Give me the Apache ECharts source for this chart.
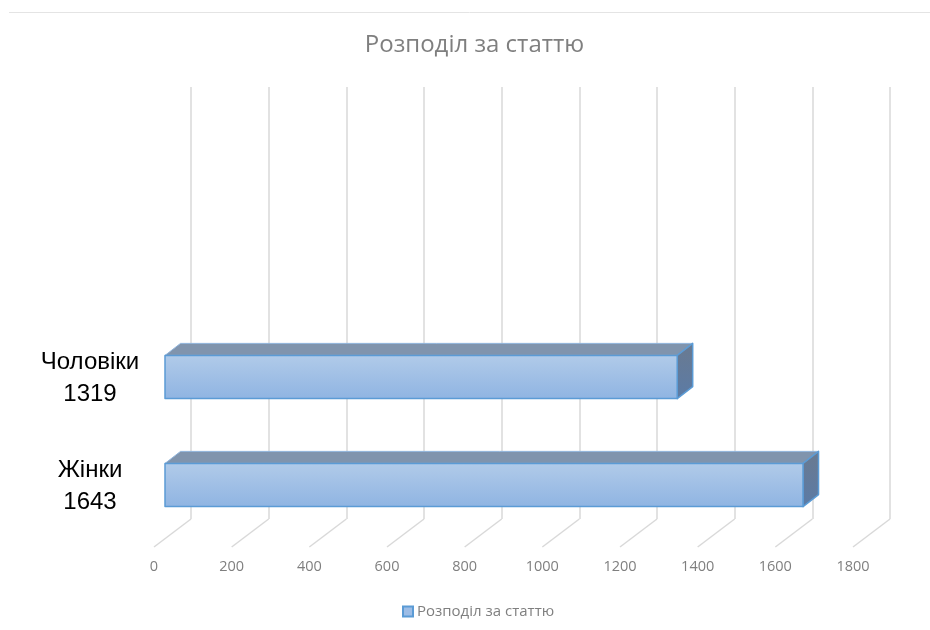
<!DOCTYPE html>
<html>
<head>
<meta charset="utf-8">
<style>
  html, body { margin: 0; padding: 0; background: #fff; }
  #chart { width: 930px; height: 630px; }
</style>
<script src="https://cdn.jsdelivr.net/npm/echarts@6/dist/echarts.min.js"></script>
</head>
<body>
<div id="chart"></div>
<script>
// дані
const seriesName = 'Розподіл за статтю';
const categories = ['Жінки', 'Чоловіки', '', ''];
const values = [1643, 1319];
const ticks = [0, 200, 400, 600, 800, 1000, 1200, 1400, 1600, 1800];

// зсув глибини псевдо-3D
const barDepth = [15.5, -12];
const floorDepth = [37, -28];

const chart = echarts.init(document.getElementById('chart'));

function renderBar(params, api) {
  const v = api.value(0);
  const i = api.value(1);
  const h = api.size([0, 1])[1] * 0.4;
  const a = api.coord([0, i]);
  const b = api.coord([v, i]);
  const x0 = a[0], x1 = b[0], yt = a[1] - h / 2, yb = a[1] + h / 2;
  const dx = barDepth[0], dy = barDepth[1];
  const border = { stroke: '#5b9bd5', lineWidth: 1.5, lineJoin: 'round' };
  return {
    type: 'group',
    children: [
      {
        type: 'polygon',
        shape: { points: [[x0, yt], [x0 + dx, yt + dy], [x1 + dx, yt + dy], [x1, yt]] },
        style: Object.assign({ fill: '#8094ad' }, border, { stroke: '#8fb4dc', lineWidth: 1 })
      },
      {
        type: 'polygon',
        shape: { points: [[x1, yt], [x1 + dx, yt + dy], [x1 + dx, yb + dy], [x1, yb]] },
        style: Object.assign({
          fill: new echarts.graphic.LinearGradient(0, 0, 0, 1, [
            { offset: 0, color: '#6a7a90' },
            { offset: 1, color: '#5b7ba6' }
          ])
        }, border)
      },
      {
        type: 'rect',
        shape: { x: x0, y: yt, width: x1 - x0, height: h },
        style: Object.assign({
          fill: new echarts.graphic.LinearGradient(0, 0, 0, 1, [
            { offset: 0, color: '#b1cbe9' },
            { offset: 1, color: '#8fb4e2' }
          ])
        }, border)
      }
    ]
  };
}

function renderFloor(params, api) {
  const p = api.coord([api.value(0), 0]);
  return {
    type: 'line',
    shape: { x1: p[0], y1: p[1], x2: p[0] + floorDepth[0], y2: p[1] + floorDepth[1] },
    style: { stroke: '#d9d9d9', lineWidth: 1.5 }
  };
}

const option = {
  backgroundColor: '#fff',
  animation: false,
  title: {
    text: seriesName,
    left: 469.5,
    top: 28,
    textAlign: 'center',
    textStyle: { color: '#7f7f7f', fontFamily: 'Open Sans', fontSize: 24, fontWeight: 'normal' }
  },
  graphic: [{
    type: 'line',
    shape: { x1: 9, y1: 12.5, x2: 930, y2: 12.5 },
    style: { stroke: '#e4e4e4', lineWidth: 1 }
  }],
  legend: {
    data: [seriesName],
    left: 397,
    top: 599,
    itemWidth: 10,
    itemHeight: 10,
    itemGap: 4,
    icon: 'rect',
    textStyle: { color: '#7f7f7f', fontFamily: 'Open Sans', fontSize: 15, padding: [0, 0, 0, -1] }
  },
  grid: [
    { left: 165, top: 107, width: 699, height: 432 }, // передня площина стовпчиків
    { left: 191, top: 87, width: 699, height: 432 },  // задня стінка
    { left: 154, top: 87, width: 699, height: 460 }   // підлога і підписи осі
  ],
  xAxis: [
    {
      gridIndex: 0, type: 'value', min: 0, max: 1800, interval: 200,
      axisLine: { show: false }, axisTick: { show: false },
      axisLabel: { show: false }, splitLine: { show: false }
    },
    {
      gridIndex: 1, type: 'value', min: 0, max: 1800, interval: 200,
      axisLine: { show: false }, axisTick: { show: false }, axisLabel: { show: false },
      splitLine: { show: true, lineStyle: { color: '#d9d9d9', width: 1.5 } }
    },
    {
      gridIndex: 2, type: 'value', min: 0, max: 1800, interval: 200,
      axisLine: { show: false }, axisTick: { show: false }, splitLine: { show: false },
      axisLabel: {
        color: '#7f7f7f', fontFamily: 'Open Sans', fontSize: 14.5, margin: 12,
        formatter: v => String(v)
      }
    }
  ],
  yAxis: [
    {
      gridIndex: 0, type: 'category', data: categories,
      axisLine: { show: false }, axisTick: { show: false }, splitLine: { show: false },
      axisLabel: {
        interval: 0,
        align: 'center',
        margin: 75,
        color: '#000',
        fontFamily: 'Liberation Sans',
        fontSize: 24,
        // різна висота рядків зсуває підпис трохи вниз
        rich: {
          name: { fontFamily: 'Liberation Sans', fontSize: 24, color: '#000', lineHeight: 35 },
          value: { fontFamily: 'Liberation Sans', fontSize: 24, color: '#000', lineHeight: 29 }
        },
        formatter: (name, idx) => (values[idx] === undefined ? '' : '{name|' + name + '}\n{value|' + values[idx] + '}')
      }
    },
    { gridIndex: 1, type: 'value', min: 0, max: 1, show: false, splitLine: { show: false } },
    { gridIndex: 2, type: 'value', min: 0, max: 1, show: false, splitLine: { show: false } }
  ],
  series: [
    {
      name: 'Підлога',
      type: 'custom',
      xAxisIndex: 2,
      yAxisIndex: 2,
      silent: true,
      z: 1,
      renderItem: renderFloor,
      encode: { x: 0 },
      data: ticks.map(t => [t])
    },
    {
      name: seriesName,
      type: 'custom',
      xAxisIndex: 0,
      yAxisIndex: 0,
      z: 3,
      itemStyle: { color: '#9dbde6', borderColor: '#5b9bd5', borderWidth: 1 },
      renderItem: renderBar,
      encode: { x: 0, y: 1 },
      data: values.map((v, i) => [v, i])
    }
  ]
};

chart.setOption(option);
window.addEventListener('resize', () => chart.resize());
</script>
</body>
</html>
